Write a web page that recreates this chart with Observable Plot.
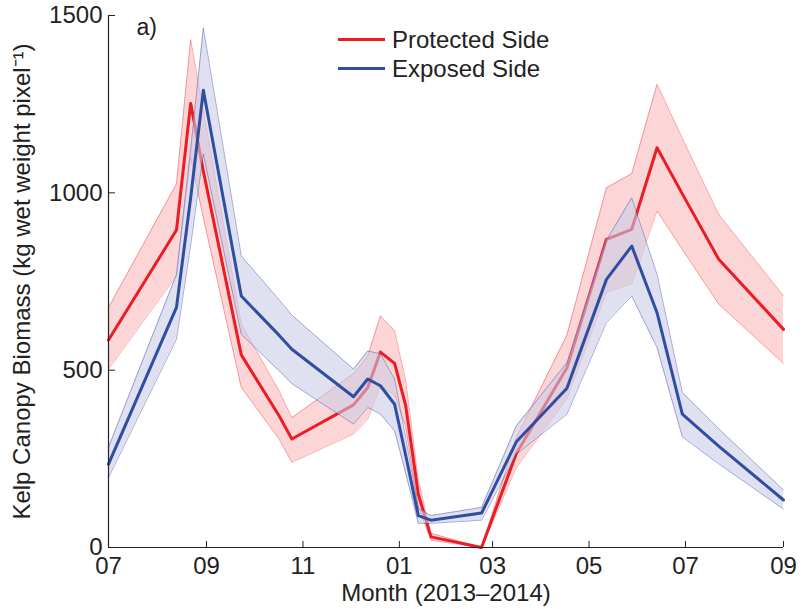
<!DOCTYPE html>
<html><head><meta charset="utf-8">
<script src="https://cdn.jsdelivr.net/npm/d3@7"></script>
<script src="https://cdn.jsdelivr.net/npm/@observablehq/plot@0.6"></script>
<style>
body{margin:0;background:#fff;}
#wrap{position:relative;width:811px;height:609px;}
#legend{position:absolute;left:338px;top:25px;font-family:"Liberation Sans",Arial,sans-serif;font-size:24px;color:#222;}
.row{display:flex;align-items:center;height:29px;}
.sw{width:47px;height:3px;margin-right:7px;}
</style></head><body><div id="wrap"><div id="legend"></div></div>
<script>
// ---- data ----
const dates = ["2013-07-01","2013-08-13","2013-08-22","2013-08-30","2013-09-23","2013-10-17","2013-10-25","2013-12-03","2013-12-12","2013-12-20","2013-12-29","2014-01-05","2014-01-13","2014-01-21","2014-02-22","2014-03-16","2014-04-17","2014-05-12","2014-05-28","2014-06-13","2014-06-29","2014-07-22","2014-09-01"];
const protectedMean = [585, 895, 1252, 1061, 543, 371, 306, 402, 451, 551, 519, 400, 150, 30, 0, 265, 507, 869, 897, 1127, 997, 813, 615];
const protectedLow  = [503, 766, 1100, 930, 451, 305, 240, 320, 362, 455, 430, 340, 115, 20, 0, 225, 420, 719, 744, 949, 840, 686, 519];
const protectedHigh = [676, 1025, 1432, 1230, 630, 441, 366, 490, 540, 653, 611, 470, 190, 40, 0, 310, 599, 1014, 1054, 1306, 1154, 939, 709];
const exposedMean = [235, 677, 987, 1289, 709, 598, 559, 425, 475, 456, 404, 260, 90, 77, 97, 298, 449, 756, 850, 662, 376, 286, 134];
const exposedLow  = [197, 587, 853, 1110, 601, 498, 462, 348, 395, 376, 329, 210, 68, 68, 77, 263, 376, 634, 709, 564, 312, 236, 108];
const exposedHigh = [282, 770, 1123, 1465, 822, 698, 655, 503, 554, 546, 475, 310, 110, 90, 113, 343, 521, 866, 986, 770, 437, 335, 162];
const seriesNames = ["Protected Side", "Exposed Side"];
const yTicks = [0, 500, 1000, 1500];
const xTickDates = ["2013-07-01","2013-09-01","2013-11-01","2014-01-01","2014-03-01","2014-05-01","2014-07-01","2014-09-01"];
const xTickLabels = ["07","09","11","01","03","05","07","09"];
const xLabel = "Month (2013\u20132014)";
const yLabel = "Kelp Canopy Biomass (kg wet weight pixel\u207B\u00B9)";
const panelLabel = "a)";

const RED = "#ED1C24", BLUE = "#2F4EA1";
const parse = d3.utcParse("%Y-%m-%d");
const rows = dates.map((d, i) => ({
  date: parse(d),
  pm: protectedMean[i], pl: protectedLow[i], ph: protectedHigh[i],
  em: exposedMean[i], el: exposedLow[i], eh: exposedHigh[i]
}));
const xTicks = xTickDates.map(parse);
const labelOf = new Map(xTicks.map((d, i) => [+d, xTickLabels[i]]));

const chart = Plot.plot({
  width: 811, height: 609,
  marginLeft: 108, marginRight: 28, marginTop: 15, marginBottom: 62,
  style: {fontFamily: "Liberation Sans, Arial, sans-serif", fontSize: "24px", color: "#222", background: "white"},
  x: {type: "utc", domain: [xTicks[0], xTicks[xTicks.length - 1]]},
  y: {domain: [0, 1500]},
  marks: [
    Plot.areaY(rows, {x: "date", y1: "pl", y2: "ph", fill: RED, fillOpacity: 0.18}),
    Plot.lineY(rows, {x: "date", y: "pl", stroke: RED, strokeWidth: 0.8, strokeOpacity: 0.45}),
    Plot.lineY(rows, {x: "date", y: "ph", stroke: RED, strokeWidth: 0.8, strokeOpacity: 0.45}),
    Plot.lineY(rows, {x: "date", y: "pm", stroke: RED, strokeWidth: 3}),
    Plot.areaY(rows, {x: "date", y1: "el", y2: "eh", fill: "#CACBE5", fillOpacity: 0.58}),
    Plot.lineY(rows, {x: "date", y: "el", stroke: "#4A55AE", strokeWidth: 0.8, strokeOpacity: 0.6}),
    Plot.lineY(rows, {x: "date", y: "eh", stroke: "#4A55AE", strokeWidth: 0.8, strokeOpacity: 0.6}),
    Plot.lineY(rows, {x: "date", y: "em", stroke: BLUE, strokeWidth: 3}),
    Plot.ruleX([xTicks[0]], {stroke: "#222", strokeWidth: 1.2}),
    Plot.ruleY([0], {stroke: "#222", strokeWidth: 1.2}),
    Plot.axisY(yTicks, {tickSize: -7, tickFormat: () => "", label: null, stroke: "#222"}),
    Plot.axisY(yTicks, {tickSize: 0, tickPadding: 6, fontSize: 24, tickFormat: d => String(d),
      label: yLabel, labelAnchor: "center", labelArrow: "none", labelOffset: 96}),
    Plot.axisX(xTicks, {tickSize: -6, tickFormat: () => "", label: null, stroke: "#222"}),
    Plot.axisX(xTicks, {tickSize: 0, tickPadding: 9, fontSize: 24,
      tickFormat: d => labelOf.get(+d), label: xLabel, labelAnchor: "center", labelArrow: "none", labelOffset: 53}),
    Plot.text([panelLabel], {frameAnchor: "top-left", dx: 28, dy: 3, fontSize: 23, textAnchor: "start", lineAnchor: "top"})
  ]
});
document.getElementById("wrap").prepend(chart);

const legend = document.getElementById("legend");
[[seriesNames[0], RED], [seriesNames[1], BLUE]].forEach(([name, color]) => {
  const row = document.createElement("div");
  row.className = "row";
  row.innerHTML = `<span class="sw" style="background:${color}"></span><span>${name}</span>`;
  legend.appendChild(row);
});
</script></body></html>
